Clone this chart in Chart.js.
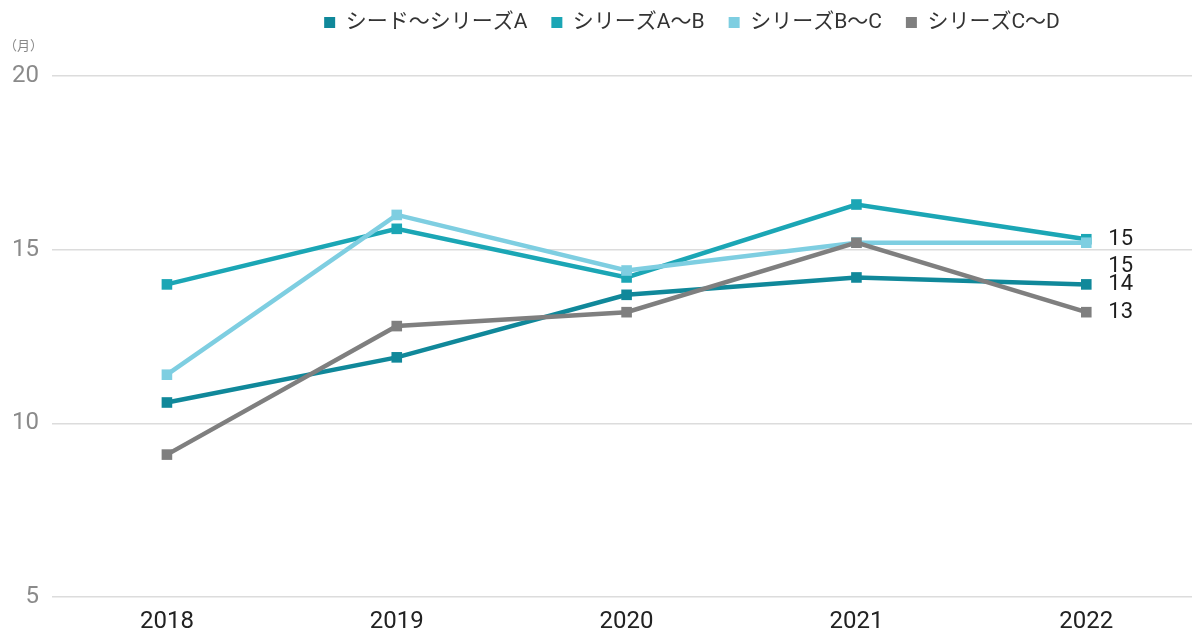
<!DOCTYPE html>
<html lang="ja">
<head>
<meta charset="utf-8">
<script src="https://cdn.jsdelivr.net/npm/chart.js@4/dist/chart.umd.min.js"></script>
<style>
  html, body { margin: 0; padding: 0; background: #fff; overflow: hidden; }
  #wrap { width: 1192px; height: 633px; }
  canvas { display: block; }
</style>
</head>
<body>
<div id="wrap"><canvas id="myChart"></canvas></div>
<script>
const years = [2018, 2019, 2020, 2021, 2022];
const seriesNames = ['シード～シリーズA', 'シリーズA～B', 'シリーズB～C', 'シリーズC～D'];

const seedToA = [10.6, 11.9, 13.7, 14.2, 14.0];
const aToB = [14.0, 15.6, 14.2, 16.3, 15.3];
const bToC = [11.4, 16.0, 14.4, 15.2, 15.2];
const cToD = [9.1, 12.8, 13.2, 15.2, 13.2];

const yTicks = [5, 10, 15, 20];
const unitLabel = '（月）';

const colors = ['#10889a', '#1ba6b5', '#7ecee1', '#7f7f7f'];
// nudge for the end labels so the two "15"s don't collide
const endLabelShift = [0, 0, 24, 0];

const FONT = "Roboto, 'Noto Sans CJK JP', sans-serif";

const makeSet = (i, values) => ({
    label: seriesNames[i],
    data: years.map((yr, k) => ({ x: yr, y: values[k] })),
    borderColor: colors[i],
    backgroundColor: colors[i],
    borderWidth: 4.5,
    pointStyle: 'rect',
    pointRadius: 7.5,
    pointHoverRadius: 7.5,
    pointBorderWidth: 0,
    tension: 0,
    order: 3 - i
});

// value labels right of the last point
const endLabels = {
    id: 'endLabels',
    afterDatasetsDraw(chart) {
        const { ctx } = chart;
        ctx.save();
        ctx.font = `22px ${FONT}`;
        ctx.fillStyle = '#1e1e1e';
        ctx.textAlign = 'left';
        ctx.textBaseline = 'middle';
        chart.data.datasets.forEach((ds, i) => {
            const meta = chart.getDatasetMeta(i);
            const last = meta.data[meta.data.length - 1];
            const v = ds.data[ds.data.length - 1].y;
            ctx.fillText(String(Math.round(v)), last.x + 22, last.y + endLabelShift[i]);
        });
        ctx.restore();
    }
};

// unit caption above the y axis
const unitCaption = {
    id: 'unitCaption',
    afterDraw(chart) {
        const { ctx, chartArea } = chart;
        ctx.save();
        ctx.font = `13px ${FONT}`;
        ctx.fillStyle = '#888';
        ctx.textAlign = 'left';
        ctx.textBaseline = 'middle';
        ctx.fillText(unitLabel, 4, chartArea.top - 29);
        ctx.restore();
    }
};

// legend sits higher and a bit right of centre
const legendShift = {
    id: 'legendShift',
    afterLayout(chart) {
        const lg = chart.legend;
        if (lg) {
            lg.left += 96;
            lg.right += 96;
            lg.top -= 33;
            lg.bottom -= 33;
        }
    }
};

new Chart(document.getElementById('myChart'), {
    type: 'line',
    data: {
        datasets: [
            makeSet(0, seedToA),
            makeSet(1, aToB),
            makeSet(2, bToC),
            makeSet(3, cToD)
        ]
    },
    options: {
        responsive: true,
        maintainAspectRatio: false,
        animation: false,
        layout: {
            autoPadding: false,
            padding: { top: 21, right: 0, bottom: 0, left: 0 }
        },
        plugins: {
            tooltip: { enabled: false },
            legend: {
                position: 'top',
                align: 'center',
                labels: {
                    usePointStyle: true,
                    pointStyle: 'rect',
                    boxWidth: 11,
                    boxHeight: 11,
                    padding: 24,
                    color: '#333',
                    font: { family: FONT, size: 21 },
                    sort: (a, b) => a.datasetIndex - b.datasetIndex
                }
            }
        },
        scales: {
            x: {
                type: 'linear',
                min: 2017.5,
                max: 2022.46,
                afterBuildTicks(scale) {
                    scale.ticks = years.map(v => ({ value: v }));
                },
                afterFit(scale) {
                    scale.height = 36;
                    scale.paddingLeft = 0;
                    scale.paddingRight = 0;
                },
                grid: { display: false, drawTicks: false },
                border: { display: false },
                ticks: {
                    color: '#222',
                    padding: 11,
                    maxRotation: 0,
                    font: { family: FONT, size: 24 },
                    callback: v => String(v)
                }
            },
            y: {
                min: 5,
                max: 20,
                afterBuildTicks(scale) {
                    scale.ticks = yTicks.map(v => ({ value: v }));
                },
                afterFit(scale) { scale.width = 52; },
                grid: { color: '#dcdcdc', lineWidth: 1.5, drawTicks: false },
                border: { display: false },
                ticks: {
                    color: '#8a8a8a',
                    padding: 13,
                    font: { family: FONT, size: 24 }
                }
            }
        }
    },
    plugins: [endLabels, unitCaption, legendShift]
});
</script>
</body>
</html>
